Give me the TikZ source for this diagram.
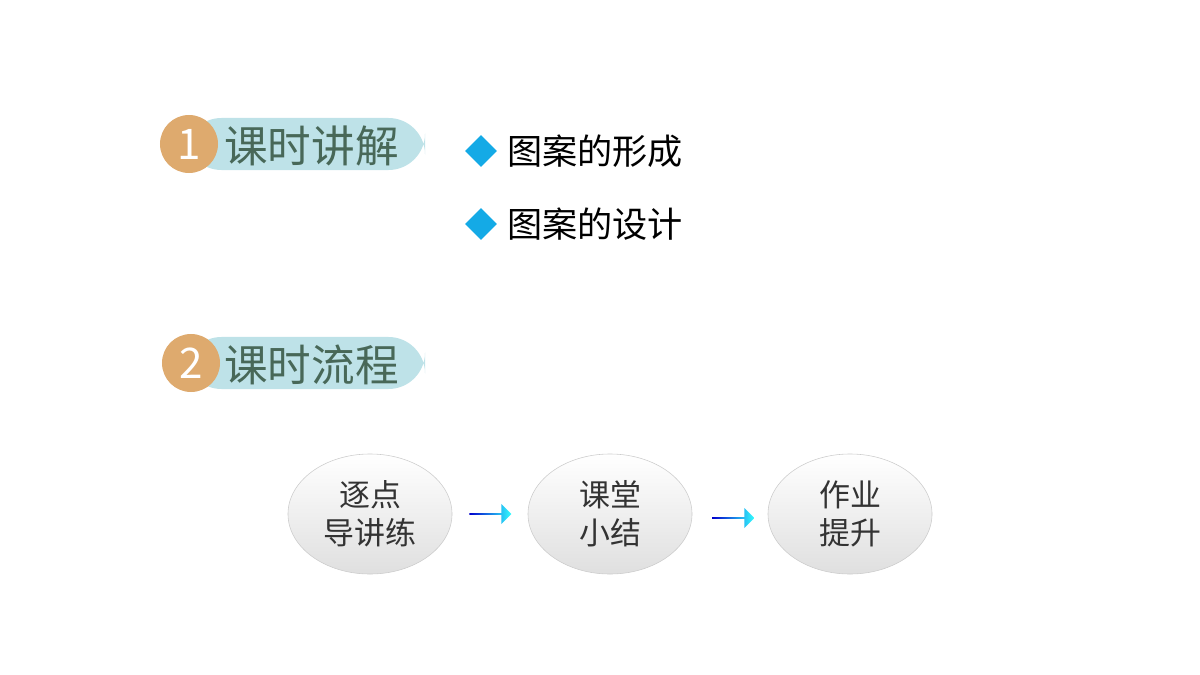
\documentclass[tikz,border=0pt]{standalone}
\usepackage{fontspec}
\setmainfont{Noto Sans CJK SC}
\usetikzlibrary{shapes.geometric,shapes.arrows}
\definecolor{pillblue}{RGB}{190,226,232}
\definecolor{numorange}{RGB}{222,170,110}
\definecolor{headgreen}{RGB}{72,104,88}
\definecolor{bulletblue}{RGB}{20,170,230}
\tikzstyle{pill} = [rectangle, rounded corners=26, fill=pillblue, minimum width=6cm, minimum height=1.3cm]
\tikzstyle{num} = [circle, fill=numorange, minimum size=1.45cm, text=white, font=\fontsize{30}{30}\selectfont]
\tikzstyle{head} = [text=headgreen, font=\fontsize{31}{31}\selectfont, anchor=west, inner sep=0pt]
\tikzstyle{bullet} = [diamond, fill=bulletblue, minimum size=0.8cm, inner sep=0pt]
\tikzstyle{item} = [font=\fontsize{25}{25}\selectfont, anchor=west, inner sep=0pt]
\tikzstyle{stage} = [ellipse, draw=gray!40, top color=white, bottom color=gray!25, minimum width=4.1cm, minimum height=3cm, align=center, text=black!80, font=\fontsize{22}{27}\selectfont]
\tikzstyle{go} = [single arrow, left color=blue!80!black, right color=cyan!80, minimum width=0.5cm, single arrow head extend=0.08cm, minimum height=1.05cm, inner sep=0pt]
\begin{document}
\begin{tikzpicture}[x=0.025cm,y=-0.025cm]
\useasboundingbox (0,0) rectangle (1200,675);
\node[pill] (pill1) at (305,144) {};
\node[num] (num1) at (189,144) {1};
\node[head] (head1) at (224,146) {课时讲解};
\node[pill] (pill2) at (305,363) {};
\node[num] (num2) at (191,363) {2};
\node[head] (head2) at (224,365) {课时流程};
\node[bullet] (dot1) at (481,151) {};
\node[item] (item1) at (507,151) {图案的形成};
\node[bullet] (dot2) at (481,224) {};
\node[item] (item2) at (507,224) {图案的设计};
\node[stage] (stage1) at (370,514) {逐点\\导讲练};
\node[stage] (stage2) at (610,514) {课堂\\小结};
\node[stage] (stage3) at (850,514) {作业\\提升};
\node[go] (go1) at (490,514) {};
\node[go] (go2) at (733,518) {};
\end{tikzpicture}
\end{document}
